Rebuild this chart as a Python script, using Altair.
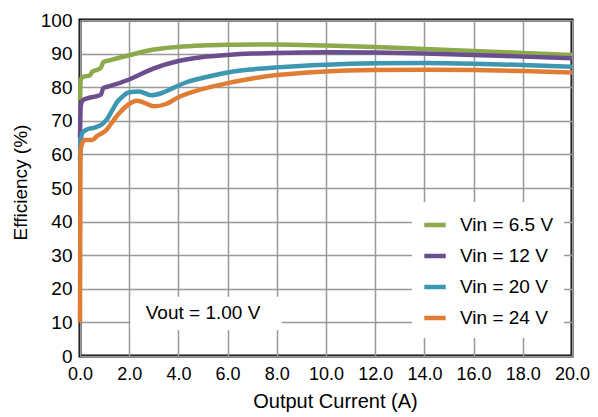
import altair as alt
import pandas as pd

series_names = ["Vin = 6.5 V", "Vin = 12 V", "Vin = 20 V", "Vin = 24 V"]
series_colors = ["#8CAA4B", "#6B4E8E", "#3D97B0", "#E07D35"]

i_65 = [0.0, 0.03, 0.1, 0.4, 0.5, 0.7, 0.85, 0.95, 1.2, 2.0, 3.0, 4.0, 5.0, 6.0, 7.0, 8.0, 10.0, 12.0, 14.0, 16.0, 18.0, 20.0]
e_65 = [76.0, 82.0, 83.0, 83.5, 84.6, 85.2, 85.8, 87.5, 88.0, 89.5, 91.2, 92.0, 92.4, 92.6, 92.7, 92.7, 92.4, 92.0, 91.4, 90.8, 90.2, 89.6]

i_12 = [0.0, 0.03, 0.1, 0.3, 0.6, 0.85, 0.95, 1.2, 2.0, 3.0, 4.0, 5.0, 6.0, 7.0, 8.0, 10.0, 12.0, 14.0, 16.0, 18.0, 20.0]
e_12 = [65.0, 74.5, 76.0, 76.7, 77.2, 77.8, 79.8, 80.3, 82.3, 85.6, 87.8, 89.0, 89.6, 90.0, 90.2, 90.4, 90.3, 90.0, 89.6, 89.1, 88.6]

i_20 = [0.0, 0.02, 0.1, 0.3, 0.6, 0.9, 1.1, 1.3, 1.5, 1.7, 2.0, 2.4, 2.9, 3.3, 3.8, 4.3, 5.0, 6.0, 7.0, 8.0, 10.0, 12.0, 14.0, 16.0, 18.0, 20.0]
e_20 = [58.0, 63.0, 66.5, 67.5, 68.0, 69.0, 70.5, 73.0, 75.5, 77.0, 78.5, 78.7, 77.6, 78.2, 79.8, 81.4, 82.8, 84.4, 85.3, 85.9, 86.7, 87.1, 87.2, 87.0, 86.6, 86.1]

i_24 = [0.0, 0.02, 0.1, 0.2, 0.5, 0.7, 0.9, 1.1, 1.3, 1.6, 2.0, 2.3, 2.6, 3.0, 3.5, 4.0, 5.0, 6.0, 7.0, 8.0, 10.0, 12.0, 14.0, 16.0, 18.0, 20.0]
e_24 = [10.0, 61.0, 63.5, 64.3, 64.3, 65.5, 66.3, 67.5, 69.5, 72.3, 75.0, 76.0, 75.4, 74.3, 75.0, 77.0, 79.5, 81.2, 82.6, 83.6, 84.7, 85.1, 85.2, 85.1, 84.8, 84.4]

x_ticks = [0, 2, 4, 6, 8, 10, 12, 14, 16, 18, 20]
y_ticks = [0, 10, 20, 30, 40, 50, 60, 70, 80, 90, 100]

ann_text = ["Vout = 1.00 V"]
ann_x = [5.0]
ann_y = [12.9]
ann_box_x = [2.05]
ann_box_x2 = [8.2]
ann_box_y = [7.7]
ann_box_y2 = [17.6]

FONT = "Liberation Sans"

rows = []
for name, xs, ys in zip(series_names, [i_65, i_12, i_20, i_24], [e_65, e_12, e_20, e_24]):
    for order, (xv, yv) in enumerate(zip(xs, ys)):
        rows.append({"series": name, "current": xv, "eff": yv, "order": order})
df = pd.DataFrame(rows)

ann_df = pd.DataFrame({"text": ann_text, "x": ann_x, "y": ann_y,
                       "bx": ann_box_x, "bx2": ann_box_x2, "by": ann_box_y, "by2": ann_box_y2})

x_scale = alt.Scale(domain=[0, 20], nice=False)
y_scale = alt.Scale(domain=[0, 100], nice=False)
x_axis = alt.Axis(title="Output Current (A)", values=x_ticks, format=".1f",
                  labelOverlap=False, labelFlush=False, labelFontSize=18,
                  titleFontSize=20, titleX=255, titleAlign="center")
y_axis = alt.Axis(title="Efficiency (%)", values=y_ticks, format="d",
                  labelOverlap=False, labelFlush=False, labelBound=False,
                  titleFontSize=19, titleY=162, titleAlign="center")

lines = alt.Chart(df).mark_line(strokeWidth=4.5, interpolate="monotone").encode(
    x=alt.X("current:Q", scale=x_scale, axis=x_axis),
    y=alt.Y("eff:Q", scale=y_scale, axis=y_axis),
    color=alt.Color("series:N", sort=series_names,
                    scale=alt.Scale(domain=series_names, range=series_colors),
                    legend=alt.Legend(title=None, orient="none", legendX=332, legendY=182,
                                      symbolType="stroke", symbolSize=460, symbolStrokeWidth=4.5,
                                      labelFontSize=19, labelFont=FONT, labelColor="black",
                                      labelOffset=12, padding=10, rowPadding=8,
                                      fillColor="white")),
    order="order:Q",
)

box = alt.Chart(ann_df).mark_rect(color="white").encode(
    x=alt.X("bx:Q", scale=x_scale, axis=x_axis), x2="bx2:Q",
    y=alt.Y("by:Q", scale=y_scale, axis=y_axis), y2="by2:Q")
txt = alt.Chart(ann_df).mark_text(fontSize=19, font=FONT, color="black").encode(
    x=alt.X("x:Q", scale=x_scale, axis=x_axis),
    y=alt.Y("y:Q", scale=y_scale, axis=y_axis),
    text="text:N")

chart = alt.layer(box, txt, lines).properties(
    width=492, height=336,
    autosize=alt.AutoSizeParams(type="none"),
    padding={"left": 72, "top": 12, "right": 18, "bottom": 60},
).configure_view(
    stroke="black", strokeWidth=3
).configure_axis(
    grid=True, gridColor="#999999", gridWidth=1.5, domain=False, ticks=False,
    labelFont=FONT, labelFontSize=19, labelColor="black", labelPadding=8,
    titleFont=FONT, titleFontSize=19.5, titleFontWeight="normal", titleColor="black",
).configure_axisX(titlePadding=8, labelPadding=9).configure_axisY(titlePadding=10)

chart.save("out.html", embed_options={"renderer": "svg", "actions": False})
